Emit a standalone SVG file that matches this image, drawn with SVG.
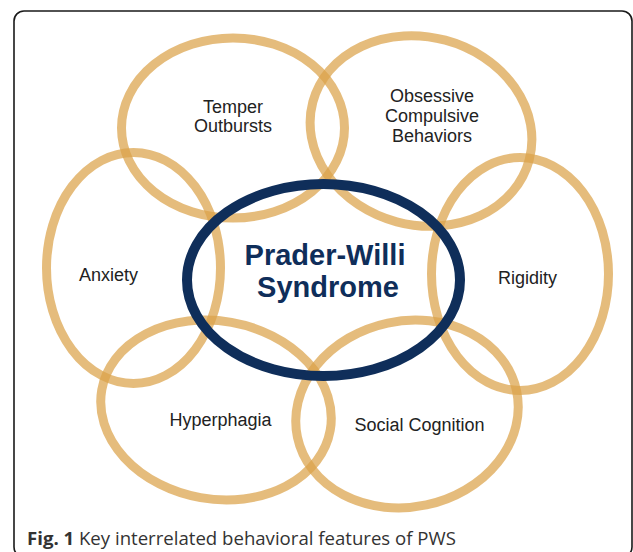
<svg xmlns="http://www.w3.org/2000/svg" width="633" height="552" viewBox="0 0 633 552">
  <style>
    .ring { fill: none; stroke: #dba24a; stroke-opacity: 0.72; stroke-width: 9; }
    .core { fill: none; stroke: #0f2e5a; stroke-width: 10; }
    .lbl { font-family: "Liberation Sans", Arial, sans-serif; font-size: 18px; fill: #222222; text-anchor: middle; }
    .title { font-family: "Liberation Sans", Arial, sans-serif; font-size: 29px; font-weight: bold; fill: #0f2e5a; text-anchor: middle; }
    .cap { font-family: "Open Sans", "Noto Sans", sans-serif; font-size: 18.6px; fill: #333333; }
  </style>
  <rect width="633" height="552" fill="#ffffff"/>
  <!-- figure frame -->
  <rect x="14" y="11" width="618" height="546" rx="10" ry="10" fill="none" stroke="#1a1a1a" stroke-width="1.6"/>

  <g id="connectors"></g>

  <g id="temper">
    <ellipse class="ring" cx="233" cy="128" rx="111.5" ry="90"/>
    <text class="lbl" x="233" y="113">Temper</text>
    <text class="lbl" x="233" y="132">Outbursts</text>
  </g>
  <g id="ocb">
    <ellipse class="ring" cx="421" cy="131" rx="112" ry="94" transform="rotate(15 421 131)"/>
    <text class="lbl" x="432" y="102">Obsessive</text>
    <text class="lbl" x="432" y="122">Compulsive</text>
    <text class="lbl" x="432" y="142">Behaviors</text>
  </g>
  <g id="anxiety">
    <ellipse class="ring" cx="133.5" cy="268" rx="87" ry="115.5"/>
    <text class="lbl" x="108.5" y="281">Anxiety</text>
  </g>
  <g id="rigidity">
    <ellipse class="ring" cx="520" cy="274" rx="88.5" ry="116.5"/>
    <text class="lbl" x="527.5" y="284">Rigidity</text>
  </g>
  <g id="hyperphagia">
    <ellipse class="ring" cx="216" cy="410" rx="116" ry="89" transform="rotate(10 216 410)"/>
    <text class="lbl" x="220.5" y="426">Hyperphagia</text>
  </g>
  <g id="social-cognition">
    <ellipse class="ring" cx="407" cy="414" rx="112" ry="93" transform="rotate(-12 407 414)"/>
    <text class="lbl" x="419.5" y="431">Social Cognition</text>
  </g>
  <g id="pws">
    <ellipse class="core" cx="323.5" cy="280" rx="136.5" ry="96"/>
    <text class="title" x="325" y="265">Prader-Willi</text>
    <text class="title" x="328" y="297">Syndrome</text>
  </g>

  <text class="cap" x="27" y="545"><tspan font-weight="bold">Fig. 1</tspan> Key interrelated behavioral features of PWS</text>
</svg>
